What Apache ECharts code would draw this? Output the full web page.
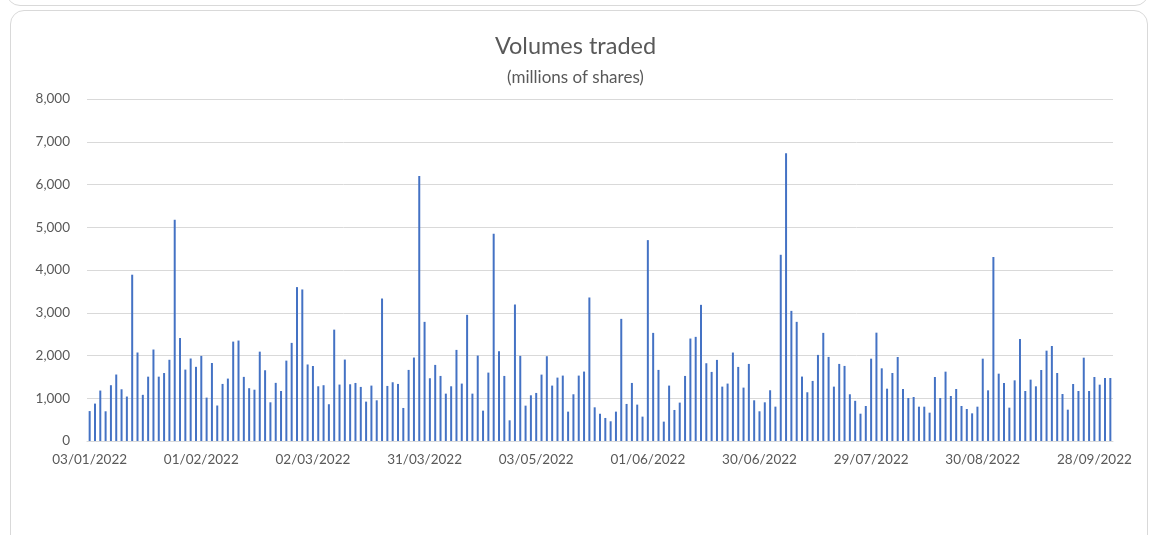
<!DOCTYPE html>
<html>
<head>
<meta charset="utf-8">
<script src="https://cdn.jsdelivr.net/npm/echarts@6/dist/echarts.min.js"></script>
<style>
    html, body { margin: 0; padding: 0; background: #fff; }
    body { width: 1151px; height: 535px; position: relative; overflow: hidden; }
    .card { position: absolute; border: 1px solid #d9d9d9; border-radius: 14px; background: #fff; }
    #prev_card { left: 6px; right: 2px; top: -120px; height: 124px; }
    #vol_card { left: 10px; right: 3px; top: 10px; height: 560px; }
    #volume_chart { position: absolute; left: 0; top: 0; width: 1151px; height: 535px; }
</style>
</head>
<body>
<div class="card" id="prev_card"></div>
<div class="card" id="vol_card"></div>
<div id="volume_chart"></div>
<script>
// trading days start, market holidays skipped (weekends skipped too)
const startDay = "2022-01-03";
const holidays = ["2022-04-15", "2022-04-18", "2022-08-15"];

// volumes in millions of shares, one per trading day
const volJan = [700, 875, 1180, 695, 1305, 1555, 1210, 1040, 3890, 2070, 1080, 1505, 2140, 1505, 1590, 1900, 5175, 2410, 1670, 1930, 1735];
const volFeb = [1990, 1015, 1825, 830, 1335, 1460, 2325, 2350, 1500, 1235, 1200, 2090, 1655, 905, 1360, 1170, 1880, 2295, 3600, 3545, 1790];
const volMar = [1755, 1280, 1305, 860, 2605, 1320, 1905, 1327, 1358, 1265, 921, 1296, 952, 3333, 1288, 1374, 1335, 773, 1663, 1952, 6198];
const volApr = [2787, 1468, 1780, 1522, 1108, 1280, 2131, 1343, 2951, 1108, 1998, 710, 1600, 4848, 2100, 1522, 484, 3193, 1991, 827, 1069];
const volMay = [1124, 1553, 1983, 1296, 1483, 1530, 687, 1093, 1530, 1624, 3357, 788, 640, 539, 461, 687, 2857, 867, 1358, 851, 570];
const volJun = [4699, 2529, 1663, 453, 1296, 726, 898, 1522, 2397, 2436, 3185, 1819, 1616, 1897, 1272, 1343, 2069, 1733, 1249, 1803, 952];
const volJul = [695, 905, 1187, 804, 4356, 6729, 3044, 2787, 1507, 1140, 1405, 2014, 2529, 1967, 1272, 1803, 1756, 1093, 940, 639, 819];
const volAug = [1926, 2534, 1700, 1224, 1591, 1965, 1216, 1006, 1029, 803, 803, 663, 1497, 1006, 1622, 1053, 1216, 819, 749, 647, 803];
const volSep = [1926, 1185, 4304, 1575, 1357, 780, 1419, 2386, 1170, 1435, 1279, 1661, 2113, 2222, 1591, 1099, 733, 1333, 1170, 1949, 1170, 1497, 1318, 1474, 1474];

const volumes = [].concat(volJan, volFeb, volMar, volApr, volMay, volJun, volJul, volAug, volSep);

const yTicks = { min: 0, max: 8000, step: 1000 };

function pad(n) {
    return n < 10 ? "0" + n : "" + n;
}

// dd/mm/yyyy labels for each trading day
function tradingDays(count) {
    const out = [];
    const d = new Date(startDay + "T12:00:00Z");
    while (out.length < count) {
        const iso = d.toISOString().slice(0, 10);
        const wd = d.getUTCDay();
        if (wd !== 0 && wd !== 6 && !holidays.includes(iso)) {
            out.push(pad(d.getUTCDate()) + "/" + pad(d.getUTCMonth() + 1) + "/" + d.getUTCFullYear());
        }
        d.setUTCDate(d.getUTCDate() + 1);
    }
    return out;
}

const drawVolumeChart = () => {
    const chart = echarts.init(document.getElementById("volume_chart"), null, { renderer: "canvas" });
    const days = tradingDays(volumes.length);
    const font = "Lato, 'Open Sans', sans-serif";

    const option = {
        backgroundColor: "transparent",
        animation: false,
        title: [
            {
                text: "Volumes traded",
                left: "center",
                top: 29,
                textStyle: { fontFamily: font, fontSize: 23.5, fontWeight: "normal", color: "#595959" }
            },
            {
                text: "(millions of shares)",
                left: "center",
                top: 64,
                textStyle: { fontFamily: font, fontSize: 17, fontWeight: "normal", color: "#595959" }
            }
        ],
        grid: { left: 87, right: 38, top: 99, bottom: 94 },
        xAxis: {
            type: "category",
            data: days,
            axisLine: { lineStyle: { color: "#d9d9d9", width: 1 } },
            axisTick: { show: false },
            axisLabel: {
                interval: 20,
                margin: 12,
                fontFamily: font,
                fontSize: 13.5,
                color: "#595959"
            }
        },
        yAxis: {
            type: "value",
            min: yTicks.min,
            max: yTicks.max,
            interval: yTicks.step,
            axisLine: { show: false },
            axisTick: { show: false },
            splitLine: { lineStyle: { color: "#d9d9d9", width: 1 } },
            axisLabel: {
                margin: 17,
                fontFamily: font,
                fontSize: 13.5,
                color: "#595959",
                formatter: (v) => v.toLocaleString("en-US")
            }
        },
        series: [
            {
                type: "bar",
                data: volumes,
                barWidth: 2,
                itemStyle: { color: "#4472c4" }
            }
        ]
    };

    chart.setOption(option);
};

document.addEventListener("DOMContentLoaded", () => {
    drawVolumeChart();
});
</script>
</body>
</html>
